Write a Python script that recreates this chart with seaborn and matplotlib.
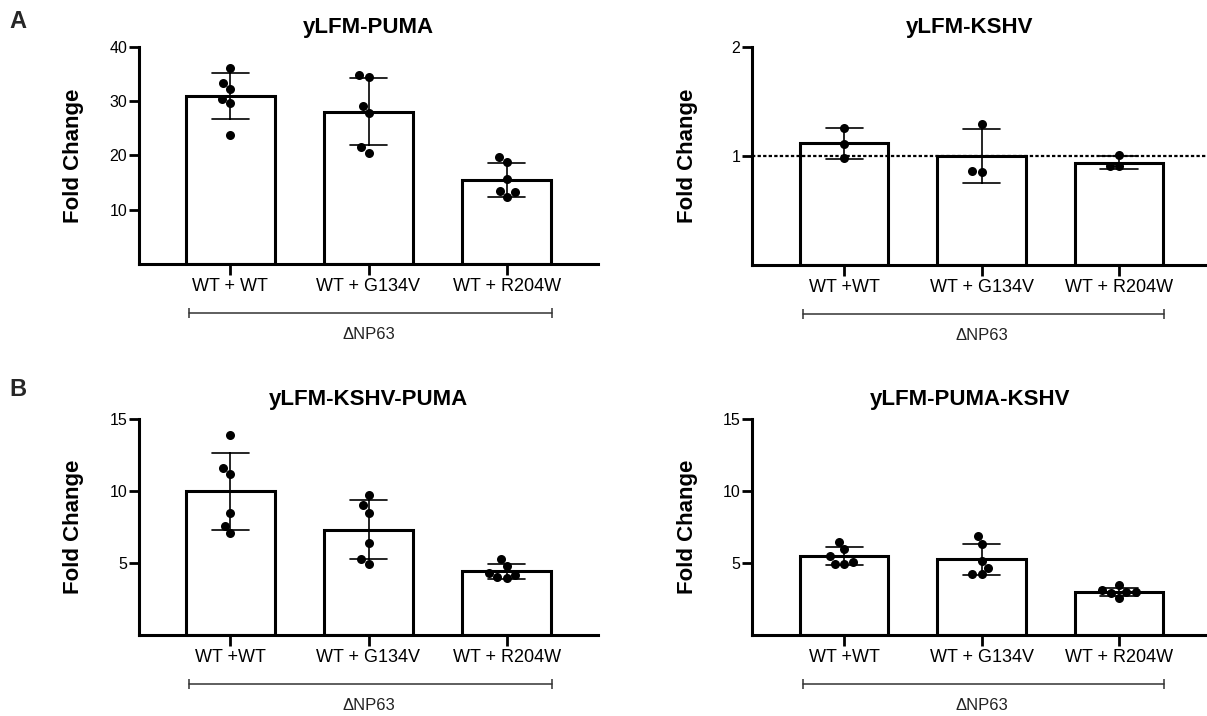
import numpy as np
import pandas as pd
import matplotlib
matplotlib.use("Agg")
import matplotlib.pyplot as plt
import seaborn as sns

sns.set_theme(style="ticks")
plt.rcParams['font.family'] = ['Liberation Sans', 'DejaVu Sans']

CATEGORIES = ['WT', 'G134V', 'R204W']
LABELS_PUMA = ['WT + WT', 'WT + G134V', 'WT + R204W']
LABELS_OTHER = ['WT +WT', 'WT + G134V', 'WT + R204W']

# yLFM-PUMA
PUMA_WT = [36.2, 33.3, 32.3, 30.5, 29.6, 23.7]
PUMA_G134V = [34.8, 34.5, 29.2, 27.9, 21.5, 20.4]
PUMA_R204W = [19.7, 18.8, 15.6, 13.4, 13.2, 12.3]

# yLFM-KSHV
KSHV_WT = [1.26, 1.11, 0.98]
KSHV_G134V = [1.29, 0.855, 0.86]
KSHV_R204W = [1.01, 0.905, 0.905]

# yLFM-KSHV-PUMA
KP_WT = [13.9, 11.6, 11.2, 8.5, 7.6, 7.1]
KP_G134V = [9.75, 9.0, 8.5, 6.4, 5.3, 4.9]
KP_R204W = [5.3, 4.8, 4.3, 4.0, 3.95, 4.2]

# yLFM-PUMA-KSHV
PK_WT = [6.48, 5.97, 5.46, 4.93, 4.93, 5.1]
PK_G134V = [6.87, 6.3, 5.14, 4.68, 4.24, 4.24]
PK_R204W = [2.9, 3.1, 3.0, 3.0, 3.45, 2.6]

W, H = 1207, 716


def long_frame(wt, g134v, r204w):
    rows = []
    for cat, vals in zip(CATEGORIES, [wt, g134v, r204w]):
        rows += [(cat, v) for v in vals]
    return pd.DataFrame(rows, columns=['group', 'fold_change'])


def px_axes(fig, left, top, right, bottom):
    return fig.add_axes([left / W, 1 - bottom / H, (right - left) / W, (bottom - top) / H])


def draw_panel(ax, df, title, yticks, xlabels, xlim, title_x=0.5):
    sns.barplot(data=df, x='group', y='fold_change', order=CATEGORIES,
                errorbar='sd', capsize=0.27, width=0.645,
                color='white', saturation=1, edgecolor='black', linewidth=2.2,
                err_kws={'color': 'black', 'linewidth': 1.2}, ax=ax)
    sns.swarmplot(data=df, x='group', y='fold_change', order=CATEGORIES,
                  color='black', size=6.5, ax=ax)

    ax.set_xlim(*xlim)
    ax.set_ylim(0, yticks[-1])
    ax.set_yticks(yticks)
    ax.set_xticks(range(len(CATEGORIES)))
    ax.set_xticklabels(xlabels)
    ax.tick_params(axis='y', length=7, width=2, labelsize=11.5, pad=1.5, colors='black')
    ax.tick_params(axis='x', length=8, width=2, labelsize=13, pad=2, colors='black')
    sns.despine(ax=ax)
    for s in ['left', 'bottom']:
        ax.spines[s].set_linewidth(2.2)
        ax.spines[s].set_color('black')

    ax.set_xlabel('')
    ax.set_ylabel('Fold Change', fontsize=16, fontweight='bold', color='black')
    ax.yaxis.set_label_coords(-65 / ax.bbox.width * 1.0, 0.5)
    ax.yaxis.label.set_va('center')

    ax.set_title(title, fontsize=16, fontweight='bold', pad=10, color='black')
    ax.title.set_x(title_x)

    # ΔNP63 bracket under the groups
    tr = ax.get_xaxis_transform()
    ax.plot([-0.3, 2.33], [-0.226, -0.226], transform=tr, clip_on=False,
            color='#333333', linewidth=1.1, marker='|', markersize=7, markeredgewidth=1.1)
    ax.text(1.0, -0.325, '\u0394NP63', transform=tr, ha='center', va='center',
            fontsize=12, color='#222222')


fig = plt.figure(figsize=(W / 100, H / 100), dpi=100)

ax_a1 = px_axes(fig, 139, 47, 598, 264)
ax_a2 = px_axes(fig, 752, 47, 1207, 265)
ax_b1 = px_axes(fig, 139, 419, 598, 635)
ax_b2 = px_axes(fig, 752, 419, 1207, 635)

draw_panel(ax_a1, long_frame(PUMA_WT, PUMA_G134V, PUMA_R204W), 'yLFM-PUMA',
           [10, 20, 30, 40], LABELS_PUMA, (-0.66, 2.66))
draw_panel(ax_a2, long_frame(KSHV_WT, KSHV_G134V, KSHV_R204W), 'yLFM-KSHV',
           [1, 2], LABELS_OTHER, (-0.67, 2.64), title_x=0.479)
ax_a2.axhline(1, color='black', linestyle=(0, (1.5, 1)), linewidth=1.6, zorder=5)
draw_panel(ax_b1, long_frame(KP_WT, KP_G134V, KP_R204W), 'yLFM-KSHV-PUMA',
           [5, 10, 15], LABELS_OTHER, (-0.66, 2.66))
draw_panel(ax_b2, long_frame(PK_WT, PK_G134V, PK_R204W), 'yLFM-PUMA-KSHV',
           [5, 10, 15], LABELS_OTHER, (-0.67, 2.64), title_x=0.479)

fig.text(18 / W, 1 - 21 / H, 'A', fontsize=17, fontweight='bold', ha='center', va='center')
fig.text(18 / W, 1 - 389 / H, 'B', fontsize=17, fontweight='bold', ha='center', va='center')

fig.savefig('out.png', dpi=100)
